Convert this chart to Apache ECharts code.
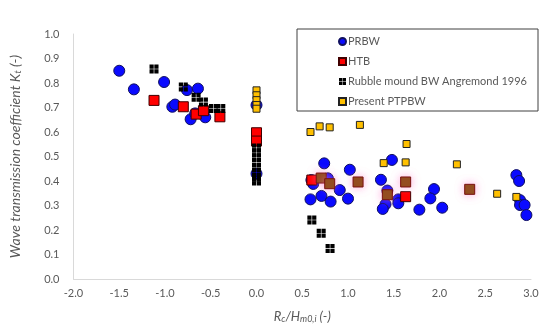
<!DOCTYPE html>
<html>
<head>
<meta charset="utf-8">
<script src="https://cdn.jsdelivr.net/npm/echarts@6/dist/echarts.min.js"></script>
<style>html,body{margin:0;padding:0;background:#fff}#c{width:550px;height:332px}</style>
</head>
<body>
<div id="c"></div>
<script>
// ---- data ----
var seriesNames = ['PRBW', 'HTB', 'Rubble mound BW Angremond 1996', 'Present PTPBW'];
var xTicks = [-2.0, -1.5, -1.0, -0.5, 0.0, 0.5, 1.0, 1.5, 2.0, 2.5, 3.0];
var yTicks = [0.0, 0.1, 0.2, 0.3, 0.4, 0.5, 0.6, 0.7, 0.8, 0.9, 1.0];

var prbw = [
  [-1.50, 0.850], [-1.34, 0.774], [-1.01, 0.804], [-0.76, 0.771], [-0.64, 0.777],
  [-0.92, 0.703], [-0.89, 0.712], [-0.72, 0.652], [-0.56, 0.660], [-0.67, 0.676],
  [0.00, 0.710], [0.00, 0.430],
  [0.74, 0.472], [1.02, 0.446], [1.48, 0.486], [0.60, 0.404], [0.62, 0.388],
  [0.78, 0.411], [0.91, 0.363], [0.59, 0.325], [0.71, 0.339], [0.81, 0.316],
  [1.00, 0.328], [1.36, 0.405], [1.43, 0.361], [1.41, 0.305], [1.38, 0.286],
  [1.55, 0.325], [1.55, 0.309], [1.94, 0.367], [1.90, 0.329], [1.78, 0.283],
  [2.03, 0.291], [2.84, 0.424], [2.87, 0.400], [2.88, 0.322], [2.88, 0.302],
  [2.93, 0.302], [2.95, 0.261]
];
var htb = [
  [-1.12, 0.729], [-0.80, 0.703], [-0.66, 0.673], [-0.58, 0.687], [-0.40, 0.662],
  [0.00, 0.597], [0.00, 0.563],
  [0.605, 0.404], [1.63, 0.336]
];
var htbShaded = [
  [0.707, 0.412], [0.80, 0.389], [1.11, 0.396], [1.43, 0.344], [1.63, 0.396], [2.33, 0.366]
];
var rubble = [
  [-1.12, 0.857], [-0.80, 0.784], [-0.66, 0.742], [-0.58, 0.722], [-0.47, 0.696], [-0.39, 0.696],
  [0.00, 0.535], [0.00, 0.515], [0.00, 0.495], [0.00, 0.475], [0.00, 0.455], [0.00, 0.435],
  [0.00, 0.415], [0.00, 0.400],
  [0.605, 0.241], [0.707, 0.187], [0.804, 0.125]
];
var ptpbw = [
  [0.00, 0.770], [0.00, 0.750], [0.00, 0.730], [0.00, 0.710], [0.00, 0.695],
  [0.59, 0.600], [0.69, 0.623], [0.80, 0.619], [1.13, 0.629], [1.64, 0.551],
  [1.39, 0.473], [1.63, 0.476], [2.19, 0.468], [2.63, 0.348], [2.84, 0.335]
];

// ---- chart ----
var crossPath = 'path://M0,0H4.2V4.2H0Z M4.8,0H9V4.2H4.8Z M0,4.8H4.2V9H0Z M4.8,4.8H9V9H4.8Z';
var gray = '#595959';
var font = 'Lato, "Open Sans", sans-serif';
var chart = echarts.init(document.getElementById('c'));
chart.setOption({
  animation: false,
  backgroundColor: '#fff',
  textStyle: { fontFamily: font },
  grid: { left: 71, right: 19, top: 34, bottom: 53 },
  graphic: [{
    type: 'rect', shape: { x: 297, y: 29, width: 241, height: 82 },
    style: { fill: 'none', stroke: '#404040', lineWidth: 1 }, z: 10
  }],
  legend: {
    orient: 'vertical', left: 333, top: 31, itemWidth: 7, itemHeight: 7, itemGap: 9,
    textStyle: { color: gray, fontSize: 11, fontFamily: font, padding: [0, 0, 0, -3] },
    data: [
      { name: seriesNames[0], icon: 'circle' },
      { name: seriesNames[1], icon: 'rect' },
      { name: seriesNames[2], icon: crossPath },
      { name: seriesNames[3], icon: 'rect' }
    ]
  },
  xAxis: {
    type: 'value', min: xTicks[0], max: xTicks[xTicks.length - 1], interval: 0.5,
    splitLine: { show: false },
    axisLine: { onZero: false, lineStyle: { color: '#d9d9d9' } },
    axisTick: { show: false },
    axisLabel: { color: gray, fontSize: 11, margin: 9, formatter: function (v) { return v.toFixed(1); } },
    name: '{i|R}{s|c}{i|/H}{s|m0,i}{i| (-)}', nameLocation: 'middle', nameGap: 30,
    nameTextStyle: {
      rich: {
        i: { fontStyle: 'italic', fontSize: 13, color: gray, fontFamily: font },
        s: { fontStyle: 'italic', fontSize: 9, color: gray, fontFamily: font, verticalAlign: 'bottom', padding: [6, 0, 0, 0] }
      }
    }
  },
  yAxis: {
    type: 'value', min: yTicks[0], max: yTicks[yTicks.length - 1], interval: 0.1,
    splitLine: { show: false },
    axisLine: { show: true, onZero: false, lineStyle: { color: '#d9d9d9' } },
    axisTick: { show: false },
    axisLabel: { color: gray, fontSize: 11, margin: 14, formatter: function (v) { return v.toFixed(1); } },
    name: '{i|Wave transmission coefficient K}{s|t}{i| (-)}', nameLocation: 'middle', nameGap: 51, nameRotate: 90,
    nameTextStyle: {
      rich: {
        i: { fontStyle: 'italic', fontSize: 14, color: gray, fontFamily: font },
        s: { fontStyle: 'italic', fontSize: 9, color: gray, fontFamily: font, padding: [6, 0, 0, 0] }
      }
    }
  },
  series: [
    { name: seriesNames[0], type: 'scatter', data: prbw, symbol: 'circle', symbolSize: 11,
      itemStyle: { color: '#0a0aff', borderColor: '#101060', borderWidth: 1, opacity: 1 } },
    { name: seriesNames[1], type: 'scatter', data: htb, symbol: 'rect', symbolSize: 10,
      itemStyle: { color: '#ff0000', borderColor: '#400000', borderWidth: 1, opacity: 1 } },
    { name: seriesNames[1], type: 'scatter', data: htbShaded, symbol: 'rect', symbolSize: 10,
      itemStyle: { color: '#8a4a12', borderColor: '#7a1010', borderWidth: 1, opacity: 1,
        shadowBlur: 8, shadowColor: 'rgba(255,120,200,0.6)' } },
    { name: seriesNames[2], type: 'scatter', data: rubble, symbol: crossPath, symbolSize: 9,
      itemStyle: { color: '#000000', opacity: 1 } },
    { name: seriesNames[3], type: 'scatter', data: ptpbw, symbol: 'rect', symbolSize: 7,
      itemStyle: { color: '#ffc000', borderColor: '#222', borderWidth: 1, opacity: 1 } }
  ]
});
</script>
</body>
</html>
